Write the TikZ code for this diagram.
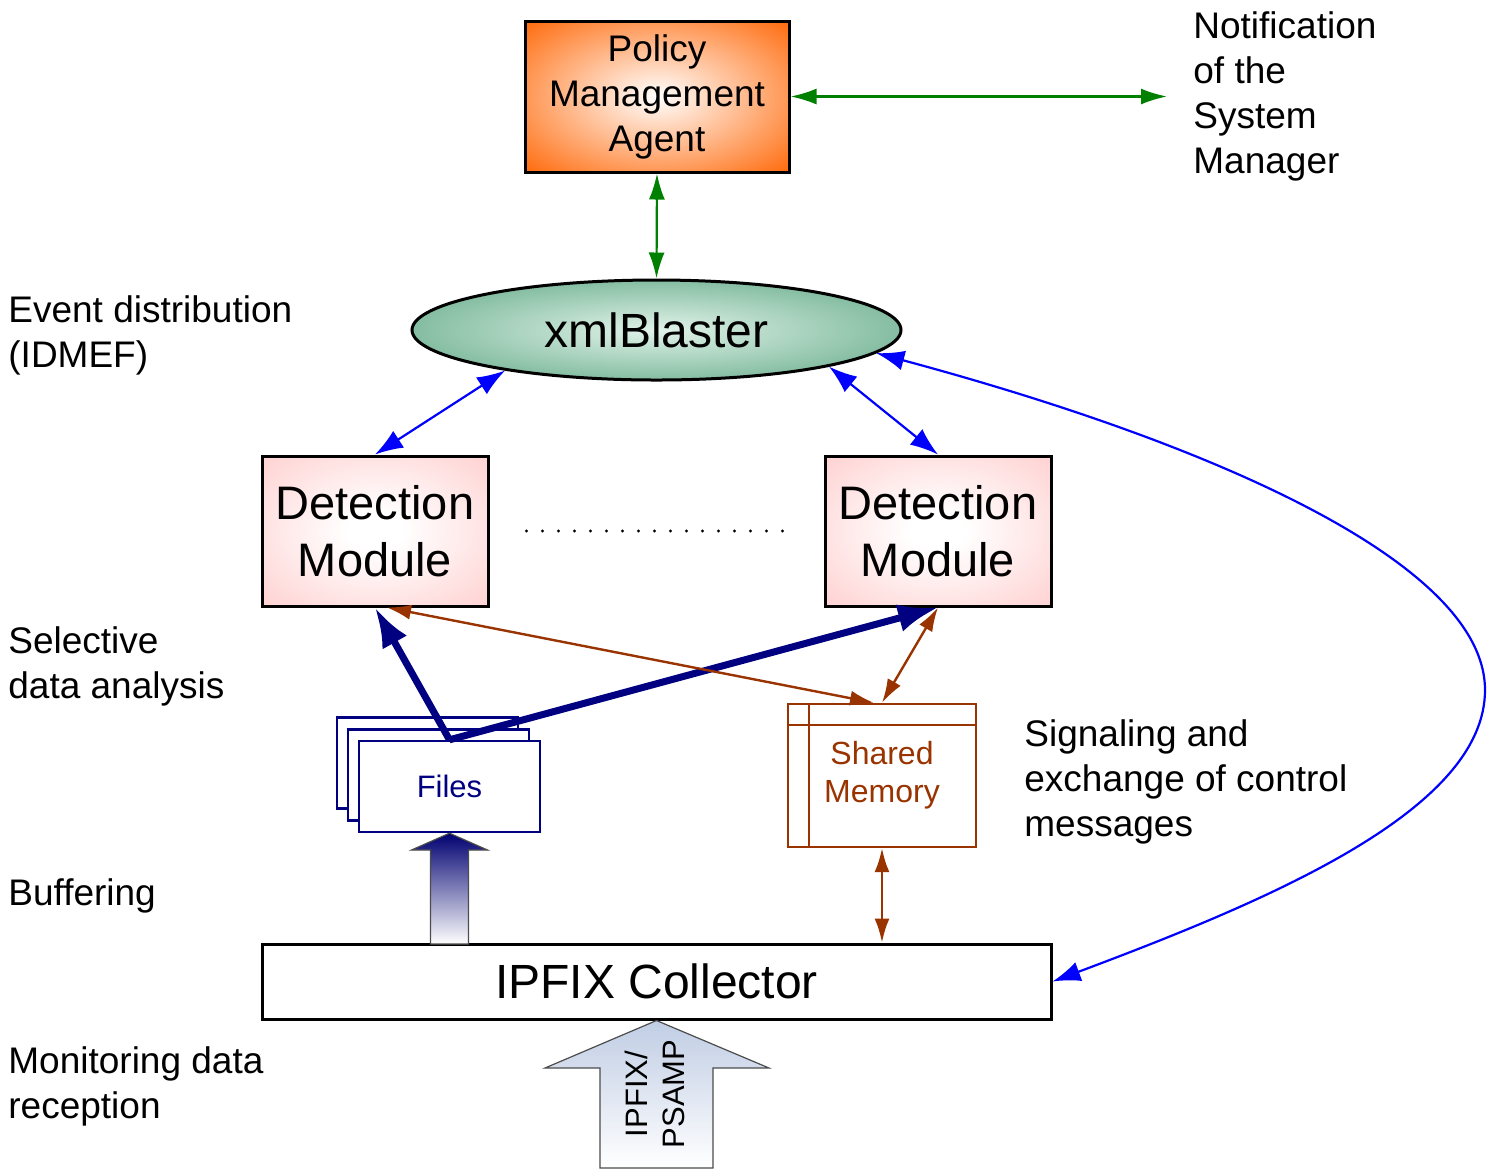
\documentclass[tikz,border=0pt]{standalone}
\usepackage{fontspec}
\setmainfont{Liberation Sans}
\usepackage{tikz}
\usetikzlibrary{shapes.geometric,arrows.meta,positioning,calc}
\usepackage{xcolor}

\definecolor{pmaorange}{RGB}{255,104,8}
\definecolor{blastergreen}{RGB}{40,135,90}
\definecolor{blasterlight}{RGB}{225,243,233}
\definecolor{dmpink}{RGB}{255,190,190}
\definecolor{filenavy}{RGB}{0,0,128}
\definecolor{membrown}{RGB}{153,51,0}
\definecolor{ctrlgreen}{RGB}{0,128,0}
\definecolor{feedgray}{RGB}{192,205,228}

\pgfdeclareradialshading{pmaglow}{\pgfpoint{0bp}{0bp}}{color(0bp)=(white); color(36bp)=(pmaorange); color(50bp)=(pmaorange)}
\pgfdeclareradialshading{blasterglow}{\pgfpoint{0bp}{0bp}}{color(0bp)=(blasterlight); color(50bp)=(blastergreen)}
\pgfdeclareradialshading{dmglow}{\pgfpoint{0bp}{0bp}}{color(0bp)=(white); color(6bp)=(white); color(48bp)=(dmpink)}

\begin{document}
\begin{tikzpicture}[x=0.5pt, y=-0.5pt,
    agent/.style={draw, line width=1.5pt, shade, shading=pmaglow, minimum width=132pt, minimum height=75.5pt, align=center, inner sep=2pt, font=\fontsize{18.5}{22.5}\selectfont},
    broker/.style={ellipse, draw, line width=1.5pt, shade, shading=blasterglow, minimum width=244.5pt, minimum height=50pt, inner sep=0pt, font=\fontsize{24}{28}\selectfont},
    detector/.style={draw, line width=1.5pt, shade, shading=dmglow, minimum width=113pt, minimum height=75pt, align=center, inner sep=2pt, font=\fontsize{23.5}{28.5}\selectfont},
    collector/.style={draw, line width=1.5pt, fill=white, minimum width=394.5pt, minimum height=37.5pt, font=\fontsize{24}{28}\selectfont},
    filebox/.style={draw=filenavy, line width=1.2pt, fill=white, minimum width=90.5pt, minimum height=45.5pt, text=filenavy, font=\fontsize{15.5}{18.5}\selectfont},
    membox/.style={draw=membrown, line width=1.2pt, minimum width=94pt, minimum height=71.5pt, align=center, text=membrown, font=\fontsize{16}{19}\selectfont},
    stagetext/.style={anchor=west, align=left, inner sep=0pt, font=\fontsize{18.5}{22.5}\selectfont},
    greenarrow/.style={{Latex[length=13pt,width=8pt]}-{Latex[length=13pt,width=8pt]}, ctrlgreen, line width=1.1pt},
    bluearrow/.style={{Latex[length=14pt,width=10pt]}-{Latex[length=14pt,width=10pt]}, blue, line width=1.1pt},
    navyarrow/.style={-{Latex[length=20pt,width=14pt]}, filenavy, line width=3.5pt},
    brownarrow/.style={{Latex[length=12pt,width=7.5pt]}-{Latex[length=12pt,width=7.5pt]}, membrown, line width=1.2pt},
    dotrow/.style={line width=1.6pt, line cap=round, dash pattern=on 0pt off 8pt},
    feedarrow/.style={draw=black!70, line width=0.6pt}
]
\useasboundingbox (0,0) rectangle (1495,1175);

% Policy management
\node[agent] (pma) at (657,96.5) {Policy\\Management\\Agent};
\node[stagetext] (notify) at (1193,96.5) {Notification\\of the\\System\\Manager};
\coordinate (notifyin) at (1167,96.5);

% Event broker
\node[broker] (blaster) at (656.5,330) {xmlBlaster};
\node[stagetext] (eventlbl) at (8,335.5) {Event distribution\\(IDMEF)};

% Detection modules
\node[detector] (dm1) at (375,531) {Detection\\Module};
\node[detector] (dm2) at (938,531) {Detection\\Module};
\draw[dotrow] ($(dm1.east)+(37,0)$) -- ($(dm2.west)+(-40,0)$);
\node[stagetext] (selectlbl) at (8,666.5) {Selective\\data analysis};

% Buffers
\node[filebox] (files3) at (427.5,763) {};
\node[filebox] (files2) at (438.5,775) {};
\node[filebox] (files) at (449.5,786.5) {Files};
\node[membox] (shm) at (882,775.5) {Shared\\Memory};
\draw[membrown, line width=1.2pt] ($(shm.north west)+(0,22)$) -- ($(shm.north east)+(0,22)$);
\draw[membrown, line width=1.2pt] ($(shm.north west)+(22,0)$) -- ($(shm.south west)+(22,0)$);
\node[stagetext] (signallbl) at (1024,781.5) {Signaling and\\exchange of control\\messages};
\node[stagetext] (bufferlbl) at (8,896) {Buffering};

% Collector
\node[collector] (ipfix) at (656.5,981.5) {IPFIX Collector};
\node[stagetext] (recvlbl) at (8,1086.5) {Monitoring data\\reception};

% Block arrows
\shadedraw[feedarrow, top color=filenavy!88!black, bottom color=white] (files.south) -- (487.5,850) -- (468.5,850) -- (468.5,944) -- (430.5,944) -- (430.5,850) -- (411.5,850) -- cycle;
\shadedraw[feedarrow, top color=feedgray, bottom color=white] (ipfix.south) -- (769,1068) -- (713,1068) -- (713,1168) -- (600,1168) -- (600,1068) -- (545,1068) -- cycle;
\node[rotate=90, align=center, inner sep=0pt, font=\fontsize{15.5}{18.5}\selectfont] (proto) at (655,1094) {IPFIX/\\PSAMP};

% Control links
\draw[greenarrow] (pma.east) -- (notifyin);
\draw[greenarrow] (pma.south) -- (blaster.north);

% Event links
\draw[bluearrow] (dm1.north) -- (blaster.195);
\draw[bluearrow] (dm2.north) -- (blaster.-12);
\draw[bluearrow] (blaster.-6) .. controls (1200,440) and (1485,560) .. (1485,690) .. controls (1485,810) and (1270,900) .. (ipfix.east);

% Data paths
\draw[navyarrow] (files.north) -- (dm1.south);
\draw[navyarrow] (files.north) -- (dm2.south);

% Signaling
\draw[brownarrow] ($(dm1.south)+(12,0)$) -- ($(shm.north)+(-8,0)$);
\draw[brownarrow] (dm2.south) -- (shm.north);
\draw[brownarrow] (shm.south) -- (shm.south |- ipfix.north);

\end{tikzpicture}
\end{document}
